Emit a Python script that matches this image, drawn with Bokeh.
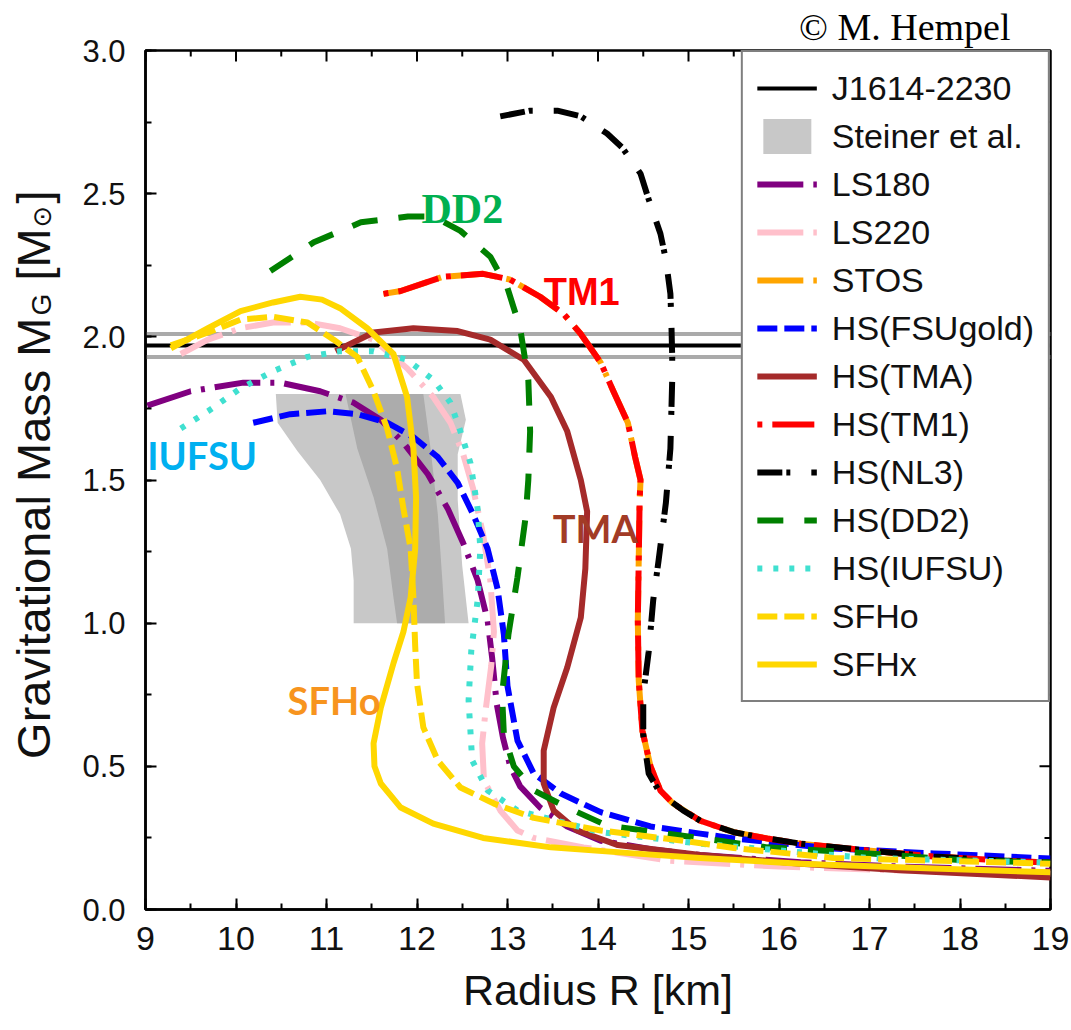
from math import pi
from bokeh.plotting import figure
from bokeh.layouts import row
from bokeh.models import (Range1d, SingleIntervalTicker, PrintfTickFormatter,
                          Legend, LegendItem, Label)
from bokeh.embed import file_html
from bokeh.resources import INLINE

# ---------------- data (radius R [km], gravitational mass M [Msun]) ----------------
R_LIMITS = [9, 19]
M_LIMITS = [0, 3]
J1614_MASS = 1.97
J1614_ERR = 0.04

# tick positions (mirrored on the top and right frame edges)
R_MAJOR_TICKS = [9, 10, 11, 12, 13, 14, 15, 16, 17, 18, 19]
R_MINOR_TICKS = [9.5, 10.5, 11.5, 12.5, 13.5, 14.5, 15.5, 16.5, 17.5, 18.5]
M_MAJOR_TICKS = [0.0, 0.5, 1.0, 1.5, 2.0, 2.5, 3.0]
M_MINOR_TICKS = [0.25, 0.75, 1.25, 1.75, 2.25, 2.75]

STEINER_OUTER_R = [10.44, 10.46, 10.68, 10.93, 11.15, 11.27, 11.30, 11.30, 12.57, 12.50, 12.45, 12.45, 12.54, 12.48]
STEINER_OUTER_M = [1.80, 1.70, 1.60, 1.50, 1.38, 1.26, 1.15, 1.00, 1.00, 1.20, 1.43, 1.59, 1.71, 1.80]
STEINER_INNER_R = [11.21, 11.34, 11.52, 11.67, 11.74, 11.78, 12.31, 12.28, 12.23, 12.15, 12.07]
STEINER_INNER_M = [1.80, 1.61, 1.44, 1.26, 1.09, 1.00, 1.00, 1.15, 1.38, 1.61, 1.80]

LS180_R = [9.02, 9.50, 10.08, 10.49, 10.93, 11.30, 11.60, 11.85, 12.12, 12.34, 12.51, 12.67, 12.78, 12.83, 12.88, 12.95, 13.03, 13.14, 13.36, 13.66, 14.03, 14.60, 15.13, 16.24, 17.34, 19.00]
LS180_M = [1.76, 1.81, 1.84, 1.84, 1.81, 1.77, 1.71, 1.63, 1.52, 1.40, 1.28, 1.15, 1.01, 0.88, 0.72, 0.60, 0.50, 0.43, 0.356, 0.29, 0.24, 0.21, 0.19, 0.165, 0.15, 0.135]

LS220_R = [9.39, 9.69, 10.05, 10.41, 10.79, 11.15, 11.52, 11.89, 12.18, 12.37, 12.51, 12.62, 12.73, 12.81, 12.85, 12.82, 12.76, 12.72, 12.74, 12.92, 13.11, 13.29, 13.84, 14.77, 16.00, 17.50, 19.00]
LS220_M = [1.94, 1.99, 2.03, 2.05, 2.05, 2.03, 1.99, 1.89, 1.79, 1.70, 1.59, 1.47, 1.31, 1.15, 0.97, 0.85, 0.70, 0.58, 0.45, 0.346, 0.276, 0.25, 0.217, 0.171, 0.15, 0.135, 0.125]

STOS_R = [11.63, 11.82, 12.29, 12.73, 13.03, 13.36, 13.62, 13.81, 14.03, 14.17, 14.33, 14.41, 14.47, 14.46, 14.45, 14.44, 14.45, 14.49, 14.58, 14.69, 14.83, 15.13, 15.50, 15.87, 16.24, 16.98, 17.71, 18.45, 19.00]
STOS_M = [2.15, 2.16, 2.21, 2.22, 2.20, 2.14, 2.08, 2.01, 1.91, 1.81, 1.70, 1.58, 1.50, 1.43, 1.22, 1.01, 0.80, 0.625, 0.50, 0.415, 0.37, 0.31, 0.27, 0.248, 0.23, 0.206, 0.185, 0.171, 0.164]

FSU_R = [10.19, 10.60, 11.01, 11.34, 11.67, 11.96, 12.23, 12.45, 12.62, 12.78, 12.89, 12.96, 13.00, 13.11, 13.29, 13.59, 14.03, 14.58, 15.13, 15.50, 16.60, 17.71, 19.00]
FSU_M = [1.70, 1.73, 1.74, 1.73, 1.70, 1.65, 1.58, 1.49, 1.38, 1.26, 1.12, 0.96, 0.78, 0.59, 0.475, 0.405, 0.34, 0.29, 0.265, 0.248, 0.213, 0.196, 0.178]

TMA_R = [11.10, 11.52, 11.96, 12.45, 12.81, 13.18, 13.48, 13.66, 13.81, 13.88, 13.86, 13.81, 13.66, 13.51, 13.40, 13.40, 13.51, 13.77, 14.22, 15.13, 16.24, 17.34, 19.00]
TMA_M = [1.95, 2.015, 2.03, 2.02, 1.99, 1.92, 1.79, 1.67, 1.50, 1.39, 1.19, 1.02, 0.845, 0.705, 0.555, 0.44, 0.346, 0.276, 0.225, 0.19, 0.16, 0.137, 0.112]

TM1_R = [11.63, 11.82, 12.29, 12.73, 13.03, 13.36, 13.62, 13.81, 14.03, 14.17, 14.33, 14.41, 14.47, 14.46, 14.45, 14.44, 14.45, 14.49, 14.58, 14.69, 14.83, 15.13, 15.50, 15.87, 16.24, 16.98, 17.71, 18.45, 19.00]
TM1_M = [2.15, 2.16, 2.21, 2.22, 2.20, 2.14, 2.08, 2.01, 1.91, 1.81, 1.70, 1.58, 1.50, 1.43, 1.22, 1.01, 0.80, 0.625, 0.50, 0.415, 0.37, 0.31, 0.27, 0.248, 0.23, 0.206, 0.185, 0.171, 0.164]

NL3_R = [12.92, 13.25, 13.55, 13.81, 14.10, 14.27, 14.47, 14.56, 14.69, 14.75, 14.80, 14.81, 14.82, 14.82, 14.81, 14.80, 14.75, 14.67, 14.61, 14.56, 14.50, 14.50, 14.56, 14.69, 14.94, 15.13, 15.50, 15.87, 16.24, 16.98, 17.71, 18.45, 19.00]
NL3_M = [2.77, 2.79, 2.79, 2.77, 2.71, 2.66, 2.57, 2.48, 2.36, 2.27, 2.15, 2.06, 1.93, 1.85, 1.73, 1.61, 1.42, 1.22, 1.08, 0.90, 0.75, 0.61, 0.475, 0.405, 0.346, 0.31, 0.27, 0.248, 0.23, 0.206, 0.185, 0.171, 0.164]

DD2_R = [10.38, 10.86, 11.38, 11.90, 12.18, 12.48, 12.81, 13.00, 13.14, 13.23, 13.25, 13.23, 13.20, 13.11, 13.01, 12.94, 12.96, 13.07, 13.29, 13.66, 14.10, 14.77, 15.87, 16.98, 18.08, 19.00]
DD2_M = [2.23, 2.33, 2.40, 2.42, 2.42, 2.37, 2.28, 2.17, 2.03, 1.85, 1.67, 1.50, 1.37, 1.16, 0.96, 0.75, 0.61, 0.50, 0.416, 0.356, 0.293, 0.265, 0.217, 0.196, 0.171, 0.164]

IUFSU_R = [9.39, 9.69, 10.05, 10.41, 10.79, 11.15, 11.52, 11.89, 12.18, 12.37, 12.48, 12.59, 12.67, 12.70, 12.67, 12.60, 12.57, 12.61, 12.78, 13.11, 13.66, 14.03, 15.13, 16.98, 19.00]
IUFSU_M = [1.68, 1.74, 1.82, 1.88, 1.93, 1.95, 1.95, 1.92, 1.85, 1.77, 1.67, 1.56, 1.40, 1.26, 1.08, 0.905, 0.73, 0.52, 0.416, 0.346, 0.30, 0.27, 0.23, 0.18, 0.164]

SFHO_R = [9.28, 9.69, 10.05, 10.41, 10.79, 11.08, 11.34, 11.52, 11.67, 11.78, 11.85, 11.93, 11.96, 11.98, 12.00, 12.07, 12.23, 12.48, 12.85, 13.29, 14.03, 14.94, 15.50, 16.60, 19.00]
SFHO_M = [1.97, 2.015, 2.06, 2.07, 2.05, 1.99, 1.93, 1.81, 1.68, 1.54, 1.40, 1.26, 1.09, 0.92, 0.79, 0.636, 0.52, 0.426, 0.37, 0.32, 0.276, 0.24, 0.215, 0.18, 0.16]

SFHX_R = [9.28, 9.69, 10.05, 10.41, 10.71, 10.95, 11.15, 11.45, 11.74, 11.89, 11.96, 11.99, 11.98, 11.93, 11.85, 11.74, 11.60, 11.52, 11.53, 11.60, 11.82, 12.18, 12.73, 13.48, 14.39, 15.13, 16.24, 17.71, 19.00]
SFHX_M = [1.96, 2.03, 2.09, 2.12, 2.14, 2.13, 2.10, 2.03, 1.94, 1.79, 1.61, 1.44, 1.26, 1.09, 0.97, 0.86, 0.705, 0.58, 0.50, 0.44, 0.356, 0.30, 0.25, 0.217, 0.196, 0.18, 0.16, 0.143, 0.13]

LEGEND_LABELS = ["J1614-2230", "Steiner et al.", "LS180", "LS220", "STOS", "HS(FSUgold)", "HS(TMA)",
                 "HS(TM1)", "HS(NL3)", "HS(DD2)", "HS(IUFSU)", "SFHo", "SFHx"]

# in-plot annotations: text, R (left edge), M (baseline)
NOTE_TEXT = ["DD2", "TM1", "TMA", "IUFSU", "SFHo"]
NOTE_R = [12.05, 13.40, 13.50, 9.02, 10.57]
NOTE_M = [2.448, 2.155, 1.334, 1.586, 0.73]

SANS = "'Liberation Sans', Arial, sans-serif"
NARROW = "'Liberation Sans Narrow', 'Liberation Sans', Arial, sans-serif"
SERIF = "'Liberation Serif', 'Times New Roman', serif"

# ---------------- main figure ----------------
p = figure(width=1005, height=1030, output_backend="svg", toolbar_location=None,
           x_range=Range1d(*R_LIMITS), y_range=Range1d(*M_LIMITS),
           min_border_left=79, min_border_right=21, min_border_top=50, min_border_bottom=121,
           background_fill_color="white", border_fill_color="white")
p.xgrid.visible = False
p.ygrid.visible = False
p.outline_line_color = "black"
p.outline_line_width = 2.5

p.title.text = "\u00a9 M. Hempel"
p.title.align = "right"
p.title.offset = 40
p.title.standoff = 6
p.title.text_font = SERIF
p.title.text_font_size = "38px"
p.title.text_font_style = "normal"
p.title.text_color = "black"


def style_axis(ax, ticker):
    ax.ticker = ticker
    ax.axis_line_color = "black"
    ax.axis_line_width = 2.5
    ax.major_tick_in = 11
    ax.major_tick_out = 0
    ax.minor_tick_in = 6
    ax.minor_tick_out = 0
    ax.major_tick_line_width = 2
    ax.minor_tick_line_width = 2
    ax.major_tick_line_color = "black"
    ax.minor_tick_line_color = "black"


xa = p.xaxis[0]
style_axis(xa, SingleIntervalTicker(interval=1, num_minor_ticks=2))
xa.major_label_text_font = NARROW
xa.major_label_text_font_size = "34px"
xa.major_label_text_color = "#111111"
xa.major_label_standoff = 17
xa.axis_label = "Radius R [km]"
xa.axis_label_text_font = NARROW
xa.axis_label_text_font_size = "43px"
xa.axis_label_text_font_style = "normal"
xa.axis_label_text_color = "#111111"
xa.axis_label_standoff = 13

ya = p.yaxis[0]
style_axis(ya, SingleIntervalTicker(interval=0.5, num_minor_ticks=2))
ya.formatter = PrintfTickFormatter(format="%.1f")
ya.major_label_text_font = SANS
ya.major_label_text_font_size = "31px"
ya.major_label_text_color = "#111111"
ya.major_label_standoff = 20

# mirrored ticks on the top and right edges (clipped to the frame, so only the inner half shows)
p.scatter(R_MAJOR_TICKS, [M_LIMITS[1]] * len(R_MAJOR_TICKS), marker="dash", angle=pi / 2,
          size=22, line_color="black", line_width=2)
p.scatter(R_MINOR_TICKS, [M_LIMITS[1]] * len(R_MINOR_TICKS), marker="dash", angle=pi / 2,
          size=12, line_color="black", line_width=2)
p.scatter([R_LIMITS[1]] * len(M_MAJOR_TICKS), M_MAJOR_TICKS, marker="dash",
          size=22, line_color="black", line_width=2)
p.scatter([R_LIMITS[1]] * len(M_MINOR_TICKS), M_MINOR_TICKS, marker="dash",
          size=12, line_color="black", line_width=2)

# ---------------- Steiner et al. region ----------------
r_steiner = p.patch(STEINER_OUTER_R, STEINER_OUTER_M, fill_color="#c8c8c8", line_color=None)
p.patch(STEINER_INNER_R, STEINER_INNER_M, fill_color="#acacac", line_color=None)

# ---------------- J1614-2230 ----------------
p.line(R_LIMITS, [J1614_MASS + J1614_ERR] * 2, line_color="#aaaaaa", line_width=4)
p.line(R_LIMITS, [J1614_MASS - J1614_ERR] * 2, line_color="#aaaaaa", line_width=4)
r_j = p.line(R_LIMITS, [J1614_MASS] * 2, line_color="black", line_width=4)

# ---------------- EoS curves ----------------
LW = 6


def curve(r, m, color, dash):
    return p.line(r, m, line_color=color, line_width=LW, line_dash=dash,
                  line_join="round", line_cap="butt")


r_ls180 = curve(LS180_R, LS180_M, "#800080", "46 10 4 10")
r_ls220 = curve(LS220_R, LS220_M, "#ffc0cb", "46 10 4 10")
r_stos = curve(STOS_R, STOS_M, "#ffa500", "46 10 4 10")
r_fsu = curve(FSU_R, FSU_M, "#0000ff", "20 7")
r_tma = curve(TMA_R, TMA_M, "#a52a2a", "solid")
r_tm1 = curve(TM1_R, TM1_M, "#ff0000", "5 10 42 8")
r_nl3 = curve(NL3_R, NL3_M, "#000000", "25 4 4 21")
r_dd2 = curve(DD2_R, DD2_M, "#008000", "26 21")
r_iufsu = curve(IUFSU_R, IUFSU_M, "#40e0d0", "5 11")
r_sfho = curve(SFHO_R, SFHO_M, "#ffd700", "20 7")
r_sfhx = curve(SFHX_R, SFHX_M, "#ffd700", "solid")

renderers = [r_j, r_steiner, r_ls180, r_ls220, r_stos, r_fsu, r_tma, r_tm1, r_nl3,
             r_dd2, r_iufsu, r_sfho, r_sfhx]
legend = Legend(items=[LegendItem(label=l, renderers=[r]) for l, r in zip(LEGEND_LABELS, renderers)],
                location="top_right", margin=0, padding=14, spacing=4,
                glyph_width=60, glyph_height=44, label_height=44, label_standoff=15,
                label_text_font=SANS, label_text_font_size="34px",
                label_text_color="#111111",
                border_line_color="black", border_line_width=2.5,
                background_fill_color="white", background_fill_alpha=1.0)
p.add_layout(legend)

# ---------------- annotations ----------------
note_style = [
    dict(text_font=SERIF, text_font_size="42px", text_font_style="bold", text_color="#00b050"),
    dict(text_font=SANS, text_font_size="38px", text_font_style="bold", text_color="#ff0000"),
    dict(text_font="Lato", text_font_size="38px", text_font_style="bold", text_color="#a23b26"),
    dict(text_font="Lato", text_font_size="38px", text_font_style="bold", text_color="#00b0f0"),
    dict(text_font="Lato", text_font_size="38px", text_font_style="bold", text_color="#f7941e"),
]
for t, rx, my, st in zip(NOTE_TEXT, NOTE_R, NOTE_M, note_style):
    p.add_layout(Label(x=rx, y=my, text=t, text_align="left", text_baseline="alphabetic", **st))

# ---------------- y axis title (separate strip so subscripts can be placed) ----------------
# the strip's frame is aligned with the main frame (bottom at 909 px), screen units count from there
ylab_fig = figure(width=66, height=1030, output_backend="svg", toolbar_location=None,
                  x_axis_type=None, y_axis_type=None, min_border=0,
                  x_range=Range1d(0, 1), y_range=Range1d(0, 1),
                  outline_line_color=None, background_fill_color="white",
                  border_fill_color="white")
for g in ylab_fig.grid:
    g.visible = False

ylab = dict(x_units="screen", y_units="screen", angle=pi / 2, text_color="#111111",
            text_baseline="alphabetic")
ylab_fig.add_layout(Label(x=33, y=592, text="Gravitational Mass M", text_align="right",
                          text_font=SANS, text_font_size="47px", **ylab))
ylab_fig.add_layout(Label(x=41, y=594, text="G", text_align="left",
                          text_font=SANS, text_font_size="28px", **ylab))
ylab_fig.add_layout(Label(x=33, y=629, text="[M", text_align="left",
                          text_font=SANS, text_font_size="47px", **ylab))
ylab_fig.add_layout(Label(x=41, y=682, text="\u2299", text_align="left",
                          text_font="'DejaVu Sans', sans-serif", text_font_size="26px", **ylab))
ylab_fig.add_layout(Label(x=33, y=706, text="]", text_align="left",
                          text_font=SANS, text_font_size="47px", **ylab))

layout = row(ylab_fig, p, spacing=0)
open("out.html", "w").write(file_html(layout, INLINE))
